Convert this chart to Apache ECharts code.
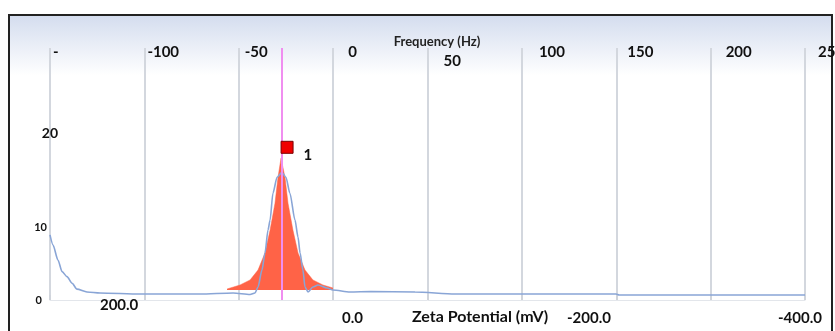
<!DOCTYPE html>
<html><head><meta charset="utf-8">
<script src="https://cdn.jsdelivr.net/npm/echarts@6/dist/echarts.min.js"></script>
<style>html,body{margin:0;padding:0;background:#fff}#c{width:835px;height:331px}</style>
</head><body><div id="c"></div>
<script>
// Frequency (top) axis ticks and their printed labels
const freqTicks = [-150, -100, -50, 0, 50, 100, 150, 200, 250];
const freqLabels = ['-', '-100', '-50', '0', '50', '100', '150', '200', '25'];
// Zeta potential (bottom) axis
const zetaTicks = [200, 0, -200, -400];
const zetaLabels = ['200.0', '0.0', '-200.0', '-400.0'];
// Y axis
const yTicks = [0, 10, 20];
const yLabels = ['0', '10', '20'];
// Measured (blue) curve: frequency (Hz) and intensity
const blueF = [-150, -148.4, -145.8, -143.6, -141.0, -138.3, -135.7, -130.4, -123.5, -102.3, -70.5, -53.0, -44.0, -41.4, -39.8, -37.7, -36.1, -34.5, -33.4, -31.9, -29.7, -27.1, -25.0, -22.9, -20.2, -18.6, -17.5, -16.0, -14.9, -13.3, -10.7, -8.0, -3.2, -0.1, 8.9, 20, 43.4, 64.6, 149.9, 151.5, 250];
const blueV = [7.8, 6.6, 4.8, 3.4, 2.8, 2.0, 1.3, 0.96, 0.84, 0.72, 0.72, 0.84, 0.66, 0.84, 1.56, 3.59, 5.63, 8.38, 9.58, 12.8, 14.7, 15.3, 14.7, 12.8, 9.58, 7.54, 5.63, 3.59, 1.56, 0.96, 1.56, 1.8, 1.44, 1.2, 0.96, 1.0, 0.96, 0.72, 0.72, 0.6, 0.6];
// Fitted peak (orange area)
const peakF = [-56.2, -49.3, -44.0, -39.8, -36.1, -33.4, -30.8, -29.2, -27.6, -25.5, -23.9, -21.3, -18.6, -14.9, -10.7, -5.4, -0.1];
const peakV = [1.32, 1.8, 2.4, 3.59, 5.63, 8.38, 11.6, 14.7, 17.0, 14.7, 11.6, 8.38, 5.63, 3.59, 2.4, 1.8, 1.44];
const peakBase = 1.2;
// Peak marker
const markerF = [-24.4];
const markerV = [18.3];
const markerLabels = ['1'];
const peakLineF = -27.1;
// Axis titles
const topTitle = 'Frequency (Hz)';
const bottomTitle = 'Zeta Potential (mV)';

const FONT = 'Lato';
const chart = echarts.init(document.getElementById('c'), null, {renderer: 'canvas'});

const topPad = [[8,0,0,3],[8,0,0,3],[8,0,0,6],[8,0,0,15],[26,0,0,16],[8,0,0,17],[8,0,0,11],[8,0,0,15],[8,0,0,13]];
const topRich = {};
topPad.forEach((p, i) => { topRich['t' + i] = {padding: p, fontFamily: FONT, fontWeight: 'bold', fontSize: 15, color: '#111', lineHeight: 16}; });
const zetaPad = [[0,0,0,0],[26,0,0,16],[26,0,0,15],[26,0,0,0]];
const zetaRich = {};
zetaPad.forEach((p, i) => { zetaRich['z' + i] = {padding: p, fontFamily: FONT, fontWeight: 'bold', fontSize: 15, color: '#111', lineHeight: 16}; });
const yRich = {
  y0: {padding: [0,16,0,0], fontFamily: FONT, fontWeight: 'bold', fontSize: 11, color: '#111'},
  y1: {padding: [21,11,0,0], fontFamily: FONT, fontWeight: 'bold', fontSize: 11, color: '#111'},
  y2: {padding: [0,0,0,0], fontFamily: FONT, fontWeight: 'bold', fontSize: 14, color: '#111'}
};

chart.setOption({
  animation: false,
  backgroundColor: '#ffffff',
  title: [{
    text: topTitle, left: 432, top: 30, textAlign: 'center',
    textStyle: {fontFamily: FONT, fontWeight: 'bold', fontSize: 13, color: '#222'}
  }, {
    text: bottomTitle, left: 475, top: 304, textAlign: 'center',
    textStyle: {fontFamily: FONT, fontWeight: 'bold', fontSize: 16, color: '#111'}
  }],
  graphic: [{
    type: 'rect', z: -10, silent: true,
    shape: {x: 9, y: 15, width: 823, height: 340},
    style: {
      fill: {type: 'linear', x: 0, y: 0, x2: 0, y2: 1, colorStops: [
        {offset: 0, color: '#d3dcee'}, {offset: 0.18, color: '#ffffff'}, {offset: 1, color: '#ffffff'}]},
      stroke: '#222', lineWidth: 2
    }
  }],
  grid: {left: 50, right: 30, top: 48, bottom: 31, containLabel: false, outerBoundsMode: 'none'},
  xAxis: [{
    type: 'value', position: 'top', min: -150, max: 250, interval: 50,
    axisLine: {show: true, lineStyle: {color: '#e3e6eb', width: 1}},
    axisTick: {show: true, length: 5, lineStyle: {color: '#d0d4db', width: 2}},
    splitLine: {show: true, lineStyle: {color: '#d3d7de', width: 2}},
    axisLabel: {
      margin: 8, align: 'left', verticalAlign: 'top',
      formatter: function (v) { const i = freqTicks.indexOf(v); return i < 0 ? '' : '{t' + i + '|' + freqLabels[i] + '}'; },
      rich: topRich
    }
  }, {
    type: 'value', position: 'bottom', inverse: true, min: -423.9, max: 244.2,
    axisLine: {show: false}, axisTick: {show: false}, splitLine: {show: false},
    axisLabel: {
      customValues: zetaTicks, margin: -3, align: 'left', verticalAlign: 'top',
      formatter: function (v) { const i = zetaTicks.indexOf(v); return i < 0 ? '' : '{z' + i + '|' + zetaLabels[i] + '}'; },
      rich: zetaRich
    }
  }],
  yAxis: {
    type: 'value', min: 0, max: 30.2,
    axisLine: {show: false}, axisTick: {show: false}, splitLine: {show: false},
    axisLabel: {
      customValues: yTicks, margin: -8, align: 'right',
      formatter: function (v) { const i = yTicks.indexOf(v); return i < 0 ? '' : '{y' + i + '|' + yLabels[i] + '}'; },
      rich: yRich
    }
  },
  series: [{
    type: 'line', xAxisIndex: 0, yAxisIndex: 0, z: 2,
    data: peakF.map((f, i) => [f, peakV[i]]),
    symbol: 'none', smooth: false,
    lineStyle: {color: '#ff6347', width: 0.5},
    areaStyle: {color: '#ff6347', opacity: 1, origin: peakBase}
  }, {
    type: 'line', xAxisIndex: 0, yAxisIndex: 0, z: 3,
    data: blueF.map((f, i) => [f, blueV[i]]),
    symbol: 'none', smooth: 0.25, smoothMonotone: 'x',
    lineStyle: {color: '#89a5d6', width: 1.6},
    markLine: {
      silent: true, symbol: ['none', 'none'], label: {show: false},
      lineStyle: {color: '#f08ef0', width: 2, type: 'solid'},
      data: [{xAxis: peakLineF}]
    }
  }, {
    type: 'scatter', xAxisIndex: 0, yAxisIndex: 0, z: 5,
    data: markerF.map((f, i) => [f, markerV[i]]),
    symbol: 'rect', symbolSize: 12,
    itemStyle: {color: '#f00000', borderColor: '#7a0000', borderWidth: 1, opacity: 1},
    label: {
      show: true, position: 'right', distance: 10, offset: [0, 8],
      formatter: function (p) { return markerLabels[p.dataIndex]; },
      fontFamily: FONT, fontWeight: 'bold', fontSize: 15, color: '#111'
    }
  }]
});
</script>
</body></html>
